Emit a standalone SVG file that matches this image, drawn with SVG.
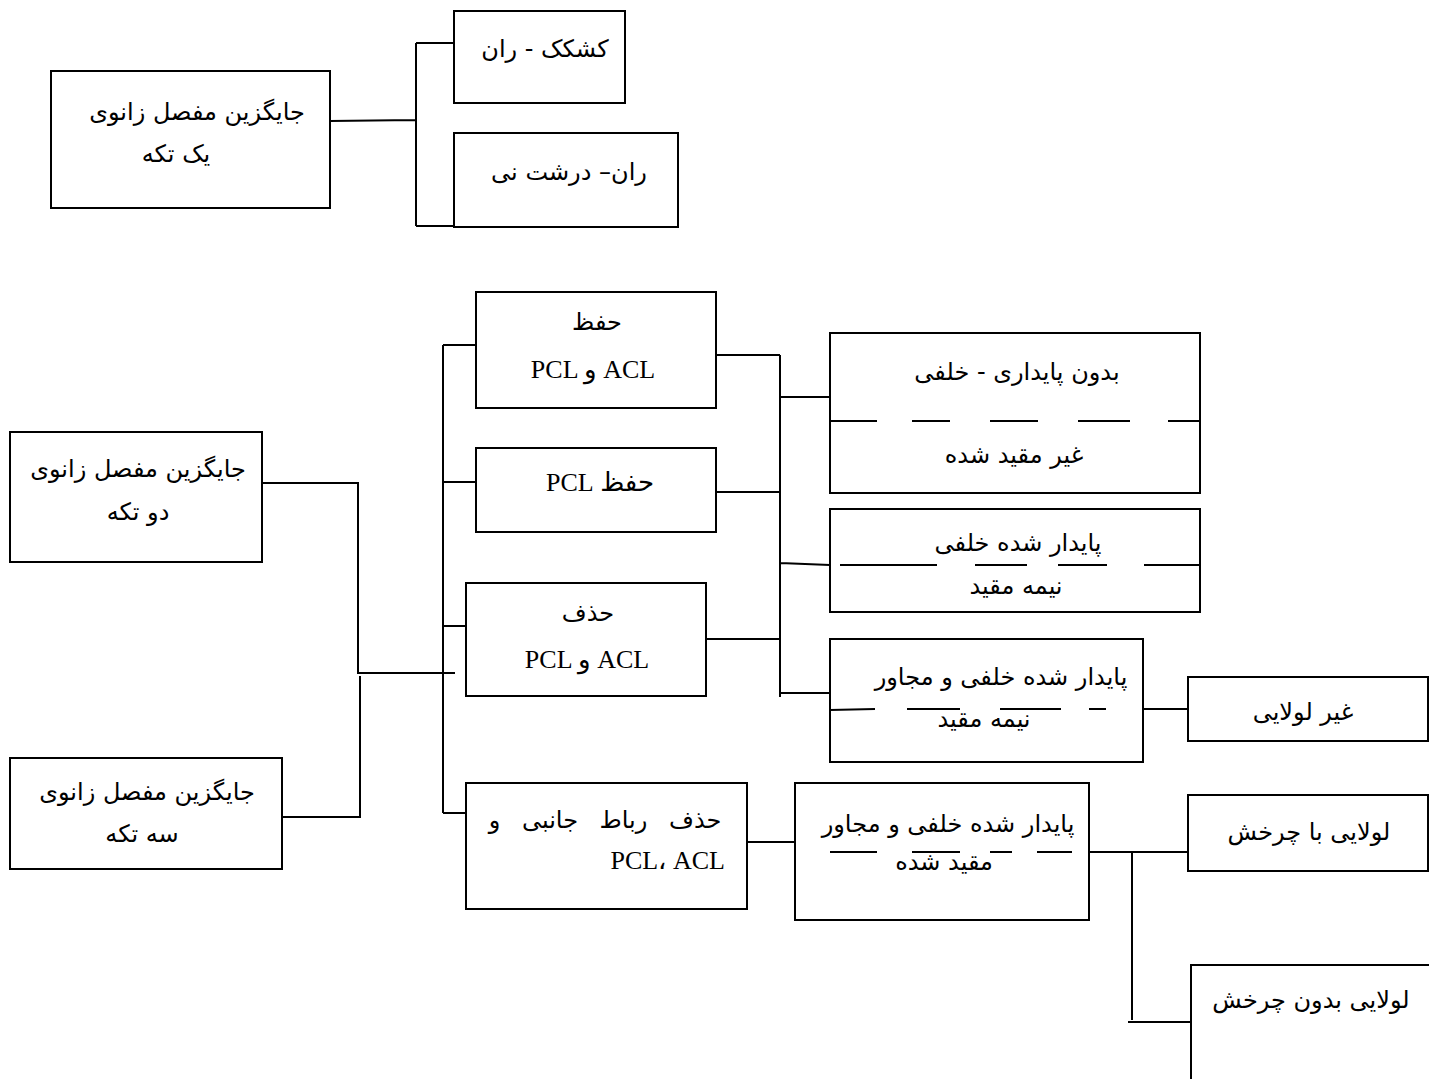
<svg xmlns="http://www.w3.org/2000/svg" width="1429" height="1079" viewBox="0 0 1429 1079">
<style>
.box{fill:#fff;stroke:#000;stroke-width:2}
.ln{fill:none;stroke:#000;stroke-width:2}
.fa{font-family:"DejaVu Sans",sans-serif;font-size:24px;fill:#000;text-anchor:middle}
.la{font-family:"Liberation Serif","DejaVu Sans",serif;font-size:26px;fill:#000;text-anchor:middle}
</style>
<rect width="1429" height="1079" fill="#fff"/>
<g id="connectors">
<path class="ln" d="M330 121 L416 120 M416 43 V226 M416 43 H454 M416 226 H454"/>
<path class="ln" d="M262 483 H358 V673 H455 M360 676 V818 M282 817 H360"/>
<path class="ln" d="M443 345 V813 M443 345 H476 M443 482 H476 M443 626 H466 M443 813 H466"/>
<path class="ln" d="M716 355 H780 M716 492 H780 M706 639 H780 M780 355 V697 M780 397 H830 M780 563 L830 565 M780 693 H830"/>
<path class="ln" d="M746 842 H795"/>
<path class="ln" d="M1113 709 H1188"/>
<path class="ln" d="M1078 852 H1192 M1132 852 V1020 M1128 1022 H1192"/>
</g>
<g id="n1"><rect class="box" x="51" y="71" width="279" height="137"/>
<text class="fa" x="197" y="120">جایگزین مفصل زانوی</text><text class="fa" x="176" y="162">یک تکه</text></g>
<g id="n2"><rect class="box" x="454" y="11" width="171" height="92"/>
<text class="fa" x="545" y="57">کشکک - ران</text></g>
<g id="n3"><rect class="box" x="454" y="133" width="224" height="94"/>
<text class="fa" x="569" y="180">ران– درشت نی</text></g>
<g id="n4"><rect class="box" x="10" y="432" width="252" height="130"/>
<text class="fa" x="138" y="477">جایگزین مفصل زانوی</text><text class="fa" x="138" y="520">دو تکه</text></g>
<g id="n5"><rect class="box" x="10" y="758" width="272" height="111"/>
<text class="fa" x="147" y="800">جایگزین مفصل زانوی</text><text class="fa" x="142" y="842">سه تکه</text></g>
<g id="n6"><rect class="box" x="476" y="292" width="240" height="116"/>
<text class="fa" x="597" y="330">حفظ</text><text class="la" x="593" y="378">PCL و ACL</text></g>
<g id="n7"><rect class="box" x="476" y="448" width="240" height="84"/>
<text class="la" x="600" y="491" direction="rtl">حفظ PCL</text></g>
<g id="n8"><rect class="box" x="466" y="583" width="240" height="113"/>
<text class="fa" x="588" y="621">حذف</text><text class="la" x="587" y="668">PCL و  ACL</text></g>
<g id="n9"><rect class="box" x="466" y="783" width="281" height="126"/>
<text class="fa" x="605" y="828" style="word-spacing:14px">حذف رباط جانبی و</text><text class="la" x="725" y="869" style="text-anchor:end">PCL، ACL</text></g>
<g id="n10"><rect class="box" x="830" y="333" width="370" height="160"/>
<text class="fa" x="1017" y="380">بدون پایداری - خلفی</text>
<path class="ln" d="M830 421 H877 M912 421 H950 M990 421 H1038 M1078 421 H1130 M1168 421 H1200"/>
<text class="fa" x="1014" y="463">غیر مقید شده</text></g>
<g id="n11"><rect class="box" x="830" y="509" width="370" height="103"/>
<text class="fa" x="1018" y="551">پایدار شده خلفی</text>
<path class="ln" d="M840 565 H937 M975 565 H1027 M1058 565 H1107 M1144 565 H1200"/>
<text class="fa" x="1016" y="594">نیمه مقید</text></g>
<g id="n12"><rect class="box" x="830" y="639" width="313" height="123"/>
<text class="fa" x="1001" y="685">پایدار شده خلفی و مجاور</text>
<path class="ln" d="M830 710 L875 709 M907 709 H960 M1000 709 H1061 M1089 709 H1106"/>
<text class="fa" x="984" y="727">نیمه مقید</text></g>
<g id="n13"><rect class="box" x="1188" y="677" width="240" height="64"/>
<text class="fa" x="1303" y="720">غیر لولایی</text></g>
<g id="n14"><rect class="box" x="795" y="783" width="294" height="137"/>
<text class="fa" x="948" y="832">پایدار شده خلفی و مجاور</text>
<path class="ln" d="M830 852 H877 M912 852 H960 M990 852 H1012 M1037 852 H1072"/>
<text class="fa" x="944" y="870">مقید شده</text></g>
<g id="n15"><rect class="box" x="1188" y="795" width="240" height="76"/>
<text class="fa" x="1309" y="840">لولایی با چرخش</text></g>
<g id="n16"><rect class="box" x="1191" y="965" width="260" height="140"/>
<text class="fa" x="1311" y="1008">لولایی بدون چرخش</text></g>
</svg>
